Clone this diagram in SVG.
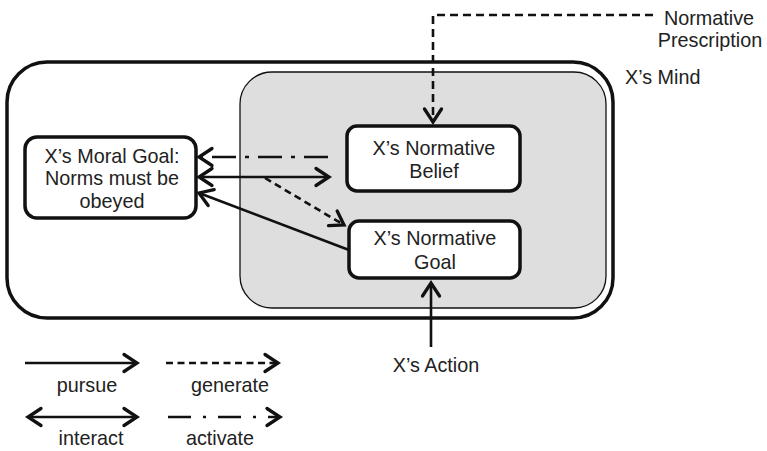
<svg xmlns="http://www.w3.org/2000/svg" width="767" height="451" viewBox="0 0 767 451">
<style>
  text { font-family: "Liberation Sans", Arial, sans-serif; font-size: 19.8px; fill: #222; }
  .c { text-anchor: middle; }
  .node { fill: #fff; stroke: #111; stroke-width: 3.5; }
  .ln { fill: none; stroke: #111; stroke-width: 2.6; }
  .dash { stroke-dasharray: 7 4.5; }
  .dd { stroke-dasharray: 24 9 4 9; }
</style>
<defs>
  <marker id="ah" markerUnits="userSpaceOnUse" markerWidth="20" markerHeight="22" viewBox="-4 -11 20 22" refX="12" refY="0" orient="auto-start-reverse">
    <path d="M-1,-8.5 L12,0 L-1,8.5" fill="none" stroke="#111" stroke-width="3.3" stroke-linecap="round"/>
  </marker>
</defs>

<g id="mind">
  <rect x="7" y="62" width="606" height="256" rx="40" fill="#fff" stroke="#111" stroke-width="3.5"/>
  <rect x="240" y="72" width="366" height="236" rx="32" fill="#dedede" stroke="#111" stroke-width="1.3"/>
  <text x="625" y="84">X’s Mind</text>
</g>

<g id="moral-goal">
  <rect class="node" x="25" y="137" width="171" height="81" rx="12"/>
  <text class="c" x="112" y="163">X’s Moral Goal:</text>
  <text class="c" x="112" y="185">Norms must be</text>
  <text class="c" x="112" y="208">obeyed</text>
</g>

<g id="normative-belief">
  <rect class="node" x="347" y="126" width="173" height="65" rx="10"/>
  <text class="c" x="434" y="155">X’s Normative</text>
  <text class="c" x="434" y="178">Belief</text>
</g>

<g id="normative-goal">
  <rect class="node" x="349" y="221" width="171" height="57" rx="10"/>
  <text class="c" x="435" y="245">X’s Normative</text>
  <text class="c" x="435" y="269">Goal</text>
</g>

<g id="prescription">
  <text class="c" x="709" y="25">Normative</text>
  <text class="c" x="710" y="47">Prescription</text>
</g>

<g id="action">
  <text class="c" x="436" y="372">X’s Action</text>
</g>

<g id="connectors">
  <line class="ln dd" x1="328" y1="157" x2="199" y2="157" stroke-width="3" marker-end="url(#ah)"/>
  <line class="ln" x1="199" y1="177" x2="329" y2="177" marker-start="url(#ah)" marker-end="url(#ah)"/>
  <line class="ln dash" x1="265" y1="178" x2="344" y2="225" marker-end="url(#ah)"/>
  <line class="ln" x1="349" y1="250" x2="199" y2="193" stroke-width="2.2" marker-end="url(#ah)"/>
  <line class="ln" x1="431" y1="347" x2="431" y2="283" stroke-width="3.5" marker-end="url(#ah)"/>
  <path class="ln" d="M653,15 H433 V122" stroke-dasharray="8 5" marker-end="url(#ah)"/>
</g>

<g id="legend">
  <line class="ln" x1="25" y1="363" x2="137" y2="363" marker-end="url(#ah)"/>
  <text class="c" x="87" y="392">pursue</text>
  <line class="ln dash" x1="166" y1="363" x2="278" y2="363" marker-end="url(#ah)"/>
  <text class="c" x="230" y="392">generate</text>
  <line class="ln" x1="28" y1="417" x2="137" y2="417" marker-start="url(#ah)" marker-end="url(#ah)"/>
  <text class="c" x="91" y="445">interact</text>
  <line class="ln" x1="168" y1="417" x2="280" y2="417" stroke-dasharray="23 12 3 12" marker-end="url(#ah)"/>
  <text class="c" x="220" y="445">activate</text>
</g>
</svg>
